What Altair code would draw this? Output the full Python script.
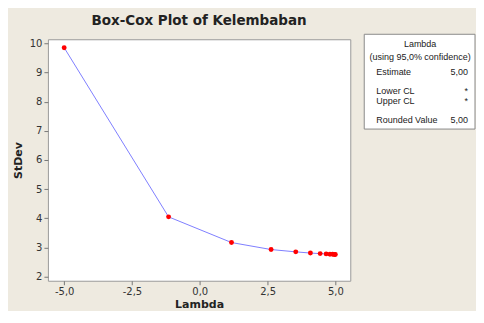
import altair as alt
import pandas as pd

lam = [-5.0, -1.15, 1.17, 2.63, 3.54, 4.08, 4.44, 4.66, 4.80, 4.90, 4.96, 5.0]
stdev = [9.85, 4.05, 3.17, 2.93, 2.85, 2.81, 2.79, 2.78, 2.77, 2.77, 2.76, 2.76]

box_labels = ["Lambda", "(using 95,0% confidence)", "Estimate", "Lower CL", "Upper CL", "Rounded Value"]
box_values = ["", "", "5,00", "*", "*", "5,00"]
box_rows = [5, 18, 33, 52, 62, 81]
box_center = [True, True, False, False, False, False]

df = pd.DataFrame({"lam": lam, "sd": stdev})
FONT = "DejaVu Sans"
BG = "#EEEAE0"

xenc = alt.X("lam:Q", scale=alt.Scale(domain=[-5.6, 5.55], nice=False, zero=False),
             axis=alt.Axis(values=[-5, -2.5, 0, 2.5, 5], title="Lambda", labelOverlap=False,
                           titlePadding=2,
                           labelExpr="replace(replace(format(datum.value, '.1f'), '.', ','), '\u2212', '-')"))
yenc = alt.Y("sd:Q", scale=alt.Scale(domain=[1.86, 10.14], nice=False, zero=False),
             axis=alt.Axis(values=[2, 3, 4, 5, 6, 7, 8, 9, 10], title="StDev", titlePadding=6,
                           labelOverlap=False))

base = alt.Chart(df).encode(x=xenc, y=yenc)
line = base.mark_line(color="#8080FF", strokeWidth=1)
pts = base.mark_circle(color="#FF0000", size=24, opacity=1)
plot = alt.layer(line, pts).properties(
    width=303, height=242,
    title=alt.TitleParams("Box-Cox Plot of Kelembaban", fontSize=13.5, font=FONT,
                          fontWeight="bold", color="#222222", offset=11))

bdf = pd.DataFrame({"label": box_labels, "value": box_values, "row": box_rows, "center": box_center})
bbase = alt.Chart(bdf)
frame = alt.Chart(pd.DataFrame({"k": [0]})).mark_rect(
    fill="white", stroke="#8A8A8A", strokeWidth=1
).encode(x=alt.value(0), x2=alt.value(111), y=alt.value(-5), y2=alt.value(90))
tstyle = dict(baseline="middle", fontSize=9, font="Liberation Sans", color="#222222")
ctr = bbase.transform_filter("datum.center").mark_text(align="center", **tstyle).encode(
    x=alt.value(56), y=alt.Y("row:Q", scale=None), text="label:N")
lft = bbase.transform_filter("!datum.center").mark_text(align="left", **tstyle).encode(
    x=alt.value(12), y=alt.Y("row:Q", scale=None), text="label:N")
rgt = bbase.transform_filter("!datum.center").mark_text(align="right", **tstyle).encode(
    x=alt.value(104), y=alt.Y("row:Q", scale=None), text="value:N")
box = alt.layer(frame, ctr, lft, rgt).properties(
    width=112, height=90,
    view=alt.ViewBackground(strokeOpacity=0, fillOpacity=0))

chart = alt.hconcat(plot, box, spacing=12).properties(
    background=BG, padding={"left": 3, "top": 5, "right": 0, "bottom": 0}
).configure_view(stroke="#9A9A9A", strokeWidth=1, fill="white").configure_axis(
    grid=False, domain=False, tickColor="#777777", tickSize=4, labelPadding=2,
    labelFont=FONT, labelFontSize=10, labelColor="#333333",
    titleFont=FONT, titleFontSize=11, titleFontWeight="bold", titleColor="#222222"
)

chart.save("out.html", embed_options={"renderer": "svg", "actions": False})
